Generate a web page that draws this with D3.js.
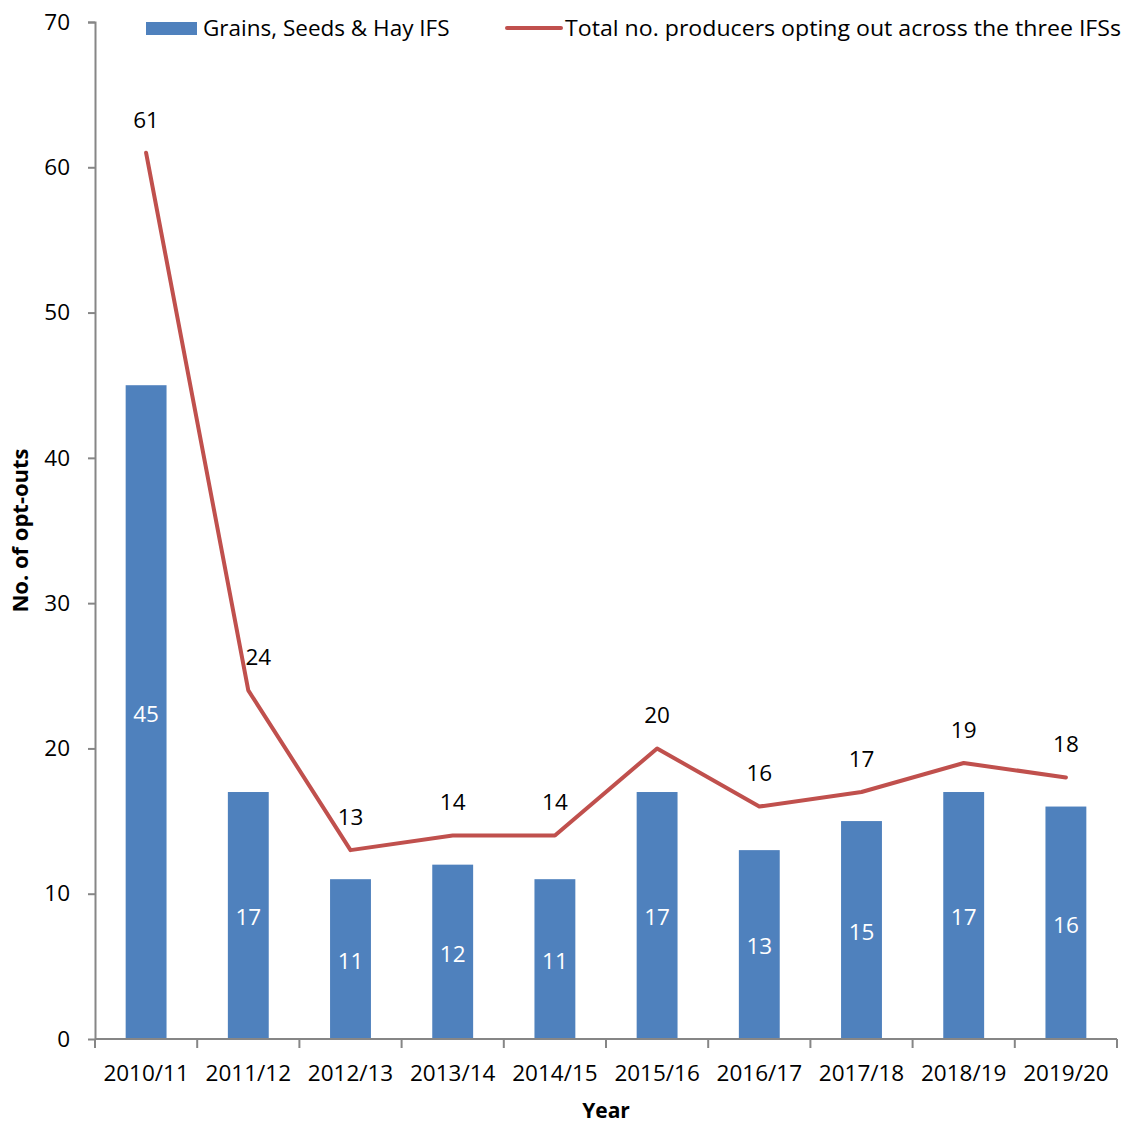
<!DOCTYPE html>
<html>
<head>
<meta charset="utf-8">
<script src="https://cdn.jsdelivr.net/npm/d3@7"></script>
<style>
  body { margin: 0; background: #fff; }
  svg { display: block; }
  svg text { font-family: "Open Sans", sans-serif; fill: #000; }
</style>
</head>
<body>
<svg id="chart"></svg>
<script>
// chart data
const years = ['2010/11', '2011/12', '2012/13', '2013/14', '2014/15', '2015/16', '2016/17', '2017/18', '2018/19', '2019/20'];
const grainsOptOuts = [45, 17, 11, 12, 11, 17, 13, 15, 17, 16];
const totalOptOuts = [61, 24, 13, 14, 14, 20, 16, 17, 19, 18];
const yTicks = [0, 10, 20, 30, 40, 50, 60, 70];

const barLabel = 'Grains, Seeds & Hay IFS';
const lineLabel = 'Total no. producers opting out across the three IFSs';

const width = 1128, height = 1124;
const margin = {top: 22, right: 11, bottom: 85, left: 95};
const innerW = width - margin.left - margin.right;
const innerH = height - margin.top - margin.bottom;

const barColor = '#4F81BD';
const lineColor = '#C0504D';
const axisColor = '#868686';
const fontSize = '22.5px';

const svg = d3.select('#chart')
    .attr('width', width)
    .attr('height', height);

const chart = svg.append('g')
    .attr('transform', `translate(${margin.left},${margin.top})`);

const xScale = d3.scaleBand()
    .domain(years)
    .range([0, innerW])
    .paddingInner(0.6)
    .paddingOuter(0.3);

const xCenter = d3.scalePoint()
    .domain(years)
    .range([0, innerW])
    .padding(0.5);

const yScale = d3.scaleLinear()
    .domain([0, 70])
    .range([innerH, 0]);

// bars
chart.selectAll('rect.bar')
    .data(years)
  .join('rect')
    .attr('class', 'bar')
    .attr('x', d => xCenter(d) - xScale.bandwidth() / 2)
    .attr('y', (d, i) => yScale(grainsOptOuts[i]))
    .attr('width', xScale.bandwidth())
    .attr('height', (d, i) => innerH - yScale(grainsOptOuts[i]))
    .attr('fill', barColor);

// bar value labels (white, mid bar)
chart.selectAll('text.bar-label')
    .data(years)
  .join('text')
    .attr('class', 'bar-label')
    .attr('x', d => xCenter(d))
    .attr('y', (d, i) => yScale(grainsOptOuts[i] / 2) + 2)
    .attr('dy', '0.35em')
    .attr('text-anchor', 'middle')
    .style('fill', '#fff')
    .style('font-size', fontSize)
    .text((d, i) => grainsOptOuts[i]);

// axes
const yAxis = d3.axisLeft(yScale).tickValues(yTicks).tickSize(7).tickPadding(18);
const yAxisG = chart.append('g').call(yAxis);

const xAxis = d3.axisBottom(xScale).tickSize(0).tickPadding(26);
const xAxisG = chart.append('g')
    .attr('transform', `translate(0,${innerH})`)
    .call(xAxis);
xAxisG.selectAll('.tick').attr('transform', d => `translate(${xCenter(d)},0)`);

// tick marks between categories
const step = innerW / years.length;
xAxisG.selectAll('line.sep')
    .data(d3.range(years.length + 1))
  .join('line')
    .attr('class', 'sep')
    .attr('x1', d => d * step)
    .attr('x2', d => d * step)
    .attr('y1', 0)
    .attr('y2', 9)
    .attr('stroke', axisColor)
    .attr('stroke-width', 2);

[yAxisG, xAxisG].forEach(g => {
  g.select('.domain').attr('stroke', axisColor).attr('stroke-width', 2);
  g.selectAll('.tick line').attr('stroke', axisColor).attr('stroke-width', 2);
  g.selectAll('.tick text')
      .style('font-family', '"Open Sans", sans-serif')
      .style('font-size', fontSize)
      .attr('fill', '#000');
});
yAxisG.select('.domain').attr('d', `M-7,0.5H0.5V${innerH}`);
xAxisG.select('.domain').attr('d', `M0,0H${innerW}`);

// line series
const line = d3.line()
    .x((d, i) => xCenter(years[i]))
    .y(d => yScale(d));

chart.append('path')
    .datum(totalOptOuts)
    .attr('d', line)
    .attr('fill', 'none')
    .attr('stroke', lineColor)
    .attr('stroke-width', 4)
    .attr('stroke-linejoin', 'round')
    .attr('stroke-linecap', 'round');

chart.selectAll('text.line-label')
    .data(totalOptOuts)
  .join('text')
    .attr('class', 'line-label')
    .attr('x', (d, i) => xCenter(years[i]) + (i === 1 ? 10 : 0))
    .attr('y', d => yScale(d) - 33)
    .attr('dy', '0.35em')
    .attr('text-anchor', 'middle')
    .style('font-size', fontSize)
    .text(d => d);

// axis titles
svg.append('text')
    .attr('transform', `translate(20,${margin.top + innerH / 2}) rotate(-90)`)
    .attr('text-anchor', 'middle')
    .attr('dy', '0.35em')
    .style('font-size', '22px')
    .style('font-weight', 'bold')
    .text('No. of opt-outs');

svg.append('text')
    .attr('x', margin.left + innerW / 2)
    .attr('y', 1111)
    .attr('text-anchor', 'middle')
    .attr('dy', '0.35em')
    .style('font-size', '21px')
    .style('font-weight', 'bold')
    .text('Year');

// legend
const legend = svg.append('g');
legend.append('rect')
    .attr('x', 146).attr('y', 22)
    .attr('width', 51).attr('height', 13)
    .attr('fill', barColor);
legend.append('text')
    .attr('x', 203).attr('y', 28)
    .attr('dy', '0.35em')
    .style('font-size', fontSize)
    .text(barLabel);
legend.append('line')
    .attr('x1', 507).attr('x2', 561)
    .attr('y1', 28).attr('y2', 28)
    .attr('stroke', lineColor)
    .attr('stroke-width', 4)
    .attr('stroke-linecap', 'round');
legend.append('text')
    .attr('x', 565).attr('y', 28)
    .attr('dy', '0.35em')
    .style('font-size', fontSize)
    .attr('textLength', 556)
    .attr('lengthAdjust', 'spacingAndGlyphs')
    .text(lineLabel);
</script>
</body>
</html>
